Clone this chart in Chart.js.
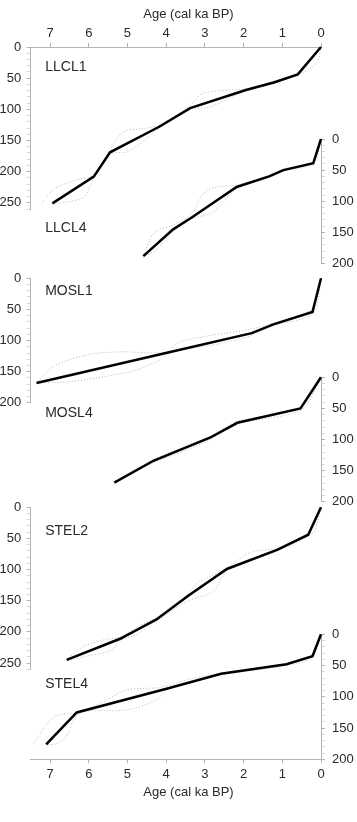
<!DOCTYPE html>
<html>
<head>
<meta charset="utf-8">
<title>Age-depth models</title>
<script src="https://cdn.jsdelivr.net/npm/chart.js@4.4.1/dist/chart.umd.min.js"></script>
<style>
    html, body { margin: 0; padding: 0; background: #ffffff; }
    #ageChart { display: block; }
</style>
</head>
<body>
<canvas id="ageChart" width="357" height="822"></canvas>
<script>
// Core names, top to bottom
const cores = ['LLCL1', 'LLCL4', 'MOSL1', 'MOSL4', 'STEL2', 'STEL4'];

// Age-depth models: [age (cal ka BP), depth (cm)]
const llcl1Model = [[0, 0], [0.6, 44], [1.22, 57], [1.94, 69], [3.38, 98], [4.18, 128], [5.45, 169], [5.87, 208], [6.94, 251]];
const llcl4Model = [[0, 0], [0.2, 39], [0.97, 50], [1.34, 60], [2.18, 77], [3.34, 126], [3.82, 145], [4.59, 188]];
const mosl1Model = [[0, 0], [0.22, 54], [1.23, 74], [1.79, 88], [3.95, 119], [7.35, 168]];
const mosl4Model = [[0, 0], [0.53, 50], [2.16, 73], [2.87, 97], [4.33, 134], [5.34, 169]];
const stel2Model = [[0, 0], [0.33, 44], [1.12, 68], [2.43, 99], [3.43, 142], [4.25, 180], [5.19, 211], [6.57, 245]];
const stel4Model = [[0, 0], [0.22, 35], [0.89, 48], [2.58, 63], [3.99, 87], [6.31, 125], [7.1, 176]];

// Confidence envelopes (older / younger bound)
const llcl1Old = [[0, 0], [0.6, 42], [1.25, 55], [1.95, 67], [2.6, 70], [3.1, 76], [3.4, 95], [4.2, 126], [4.6, 131], [5.1, 136], [5.45, 165], [5.87, 205], [6.4, 215], [6.9, 228], [7.22, 251]];
const llcl1Young = [[0, 0], [0.1, 25], [0.6, 45], [1.22, 58], [1.94, 70], [2.5, 86], [2.9, 97], [3.38, 100], [4.18, 130], [4.6, 152], [5.0, 168], [5.45, 172], [5.87, 210], [6.1, 240], [6.4, 247], [6.94, 252]];
const llcl4Old = [[0, 0], [0.2, 37], [0.97, 48], [1.34, 58], [2.18, 74], [2.6, 76], [3.0, 85], [3.34, 120], [3.82, 138], [4.3, 150], [4.59, 186]];
const llcl4Young = [[0, 0], [0.2, 40], [0.97, 51], [1.34, 62], [2.18, 80], [2.8, 118], [3.34, 128], [3.82, 148], [4.2, 175], [4.59, 190]];
const mosl1Old = [[0, 0], [0.25, 50], [1.23, 72], [1.92, 83], [2.78, 91], [3.64, 102], [3.95, 117], [4.33, 120], [5.19, 118], [6.05, 123], [6.92, 142], [7.35, 168]];
const mosl1Young = [[0, 0], [0.2, 56], [1.23, 76], [1.91, 94], [2.79, 107], [3.64, 115], [3.95, 121], [4.16, 131], [4.76, 147], [5.63, 158], [6.49, 166], [7.4, 168]];
const mosl4Old = [[0, 0], [0.53, 49], [2.16, 71], [2.87, 95], [4.33, 132], [5.34, 168]];
const mosl4Young = [[0, 0], [0.5, 52], [2.16, 75], [2.87, 100], [3.6, 120], [4.33, 137], [5.34, 170]];
const stel2Old = [[0, 0], [0.33, 42], [1.12, 66], [1.8, 72], [2.43, 97], [2.7, 106], [3.2, 122], [3.43, 138], [4.25, 177], [4.7, 190], [5.19, 208], [5.63, 213], [6.1, 222], [6.57, 244]];
const stel2Young = [[0, 0], [0.15, 35], [0.33, 46], [1.12, 70], [2.43, 101], [2.78, 135], [3.43, 150], [3.9, 168], [4.25, 183], [4.8, 205], [5.19, 214], [5.4, 229], [6.15, 240], [6.57, 246]];
const stel4Old = [[0, 0], [0.22, 33], [0.89, 47], [2.61, 62], [3.47, 73], [4.16, 85], [5.02, 89], [5.71, 111], [6.31, 125], [6.92, 133], [7.43, 176]];
const stel4Young = [[0, 0], [0.22, 37], [0.89, 50], [2.58, 65], [3.99, 89], [4.25, 105], [5.02, 121], [6.23, 126], [6.6, 165], [6.83, 175], [7.1, 177]];

// Axis ticks
const ageTicks = [0, 1, 2, 3, 4, 5, 6, 7];
const depthMax = { LLCL1: 260, LLCL4: 200, MOSL1: 200, MOSL4: 200, STEL2: 260, STEL4: 200 };

const models = [llcl1Model, llcl4Model, mosl1Model, mosl4Model, stel2Model, stel4Model];
const olds = [llcl1Old, llcl4Old, mosl1Old, mosl4Old, stel2Old, stel4Old];
const youngs = [llcl1Young, llcl4Young, mosl1Young, mosl4Young, stel2Young, stel4Young];

// Layout settings (not data)
const labelDepth = [32, 143, 20, 58, 39, 79];
const textGrey = '#2a2a2a';
const axisGrey = '#b4b4b4';
const minorGrey = '#d8d8d8';
const fontFamily = '"Liberation Sans", Arial, sans-serif';
const tickFont = { family: fontFamily, size: 13 };
const titleFont = { family: fontFamily, size: 13 };

function toPoints(arr) {
    return arr.map(p => ({ x: p[0], y: p[1] }));
}

// Depth axis placed in a vertical stack on the left or right side
function depthAxis(name, side, weight, stackWeight) {
    return {
        type: 'linear',
        position: side,
        stack: 'depth',
        stackWeight: stackWeight,
        weight: weight,
        reverse: true,
        min: 0,
        max: depthMax[name],
        border: { color: axisGrey, width: 1 },
        grid: {
            drawOnChartArea: false,
            tickLength: 4,
            tickColor: c => (c.tick && c.tick.value % 50 === 0) ? axisGrey : minorGrey
        },
        ticks: {
            stepSize: 10,
            autoSkip: false,
            padding: side === 'left' ? 5.5 : 7,
            color: textGrey,
            font: tickFont,
            callback: v => (v % 50 === 0 ? v : '')
        },
        afterFit: s => { s.width = side === 'left' ? 30.7 : 36; }
    };
}

// Invisible spacer in a stack
function spacer(side, weight, stackWeight) {
    return { type: 'linear', position: side, stack: 'depth', stackWeight: stackWeight, weight: weight, display: false };
}

function ageAxis(side) {
    const top = side === 'top';
    return {
        type: 'linear',
        position: side,
        reverse: true,
        min: 0,
        max: 7.5,
        border: { color: axisGrey, width: 1 },
        grid: { drawOnChartArea: false, tickLength: 4, tickColor: axisGrey },
        afterBuildTicks: s => { s.ticks = ageTicks.map(v => ({ value: v })); },
        ticks: { padding: top ? 1.5 : 3, color: textGrey, font: tickFont, maxRotation: 0 },
        title: {
            display: true,
            text: '       Age (cal ka BP)',
            color: textGrey,
            font: titleFont,
            padding: top ? { top: 6.2, bottom: 0 } : { top: 0, bottom: 22 }
        },
        afterFit: s => { s.height = top ? 47 : 62.7; }
    };
}

function buildDatasets() {
    const datasets = [];
    cores.forEach((name, i) => {
        datasets.push({
            data: toPoints(models[i]),
            yAxisID: 'y' + name,
            xAxisID: 'x',
            borderColor: '#000000',
            borderWidth: 2.5,
            pointRadius: 0,
            tension: 0,
            fill: false,
            clip: false,
            order: 0
        });
        [olds[i], youngs[i]].forEach(env => {
            datasets.push({
                data: toPoints(env),
                yAxisID: 'y' + name,
                xAxisID: 'x',
                borderColor: '#b8b8b8',
                borderWidth: 1,
                borderDash: [1, 2],
                pointRadius: 0,
                tension: 0.3,
                fill: false,
                clip: false,
                order: 1
            });
        });
    });
    return datasets;
}

// Core names written inside each panel
const coreLabels = {
    id: 'coreLabels',
    afterDatasetsDraw(chart) {
        const ctx = chart.ctx;
        ctx.save();
        ctx.font = '14px ' + fontFamily;
        ctx.fillStyle = textGrey;
        ctx.textAlign = 'left';
        ctx.textBaseline = 'middle';
        cores.forEach((name, i) => {
            const y = chart.scales['y' + name].getPixelForValue(labelDepth[i]);
            ctx.fillText(name, chart.chartArea.left + 14.5, y);
        });
        ctx.restore();
    }
};

function createChart() {
    const ctx = document.getElementById('ageChart').getContext('2d');
    return new Chart(ctx, {
        type: 'line',
        data: { datasets: buildDatasets() },
        options: {
            responsive: false,
            animation: false,
            events: [],
            layout: { padding: 0 },
            scales: {
                x: ageAxis('bottom'),
                x2: ageAxis('top'),
                // left stack (top to bottom by descending weight)
                yLLCL1: depthAxis('LLCL1', 'left', 6, 162.0),
                sL1: spacer('left', 5, 69.3),
                yMOSL1: depthAxis('MOSL1', 'left', 4, 124.6),
                sL2: spacer('left', 3, 104.4),
                ySTEL2: depthAxis('STEL2', 'left', 2, 162.0),
                sL3: spacer('left', 1, 90.0),
                // right stack (top to bottom by ascending weight)
                sR1: spacer('right', 1, 92.0),
                yLLCL4: depthAxis('LLCL4', 'right', 2, 124.6),
                sR2: spacer('right', 3, 113.7),
                yMOSL4: depthAxis('MOSL4', 'right', 4, 124.6),
                sR3: spacer('right', 5, 132.4),
                ySTEL4: depthAxis('STEL4', 'right', 6, 125.0)
            },
            plugins: {
                legend: { display: false },
                tooltip: { enabled: false }
            }
        },
        plugins: [coreLabels]
    });
}

document.addEventListener('DOMContentLoaded', function () {
    createChart();
});
</script>
</body>
</html>
